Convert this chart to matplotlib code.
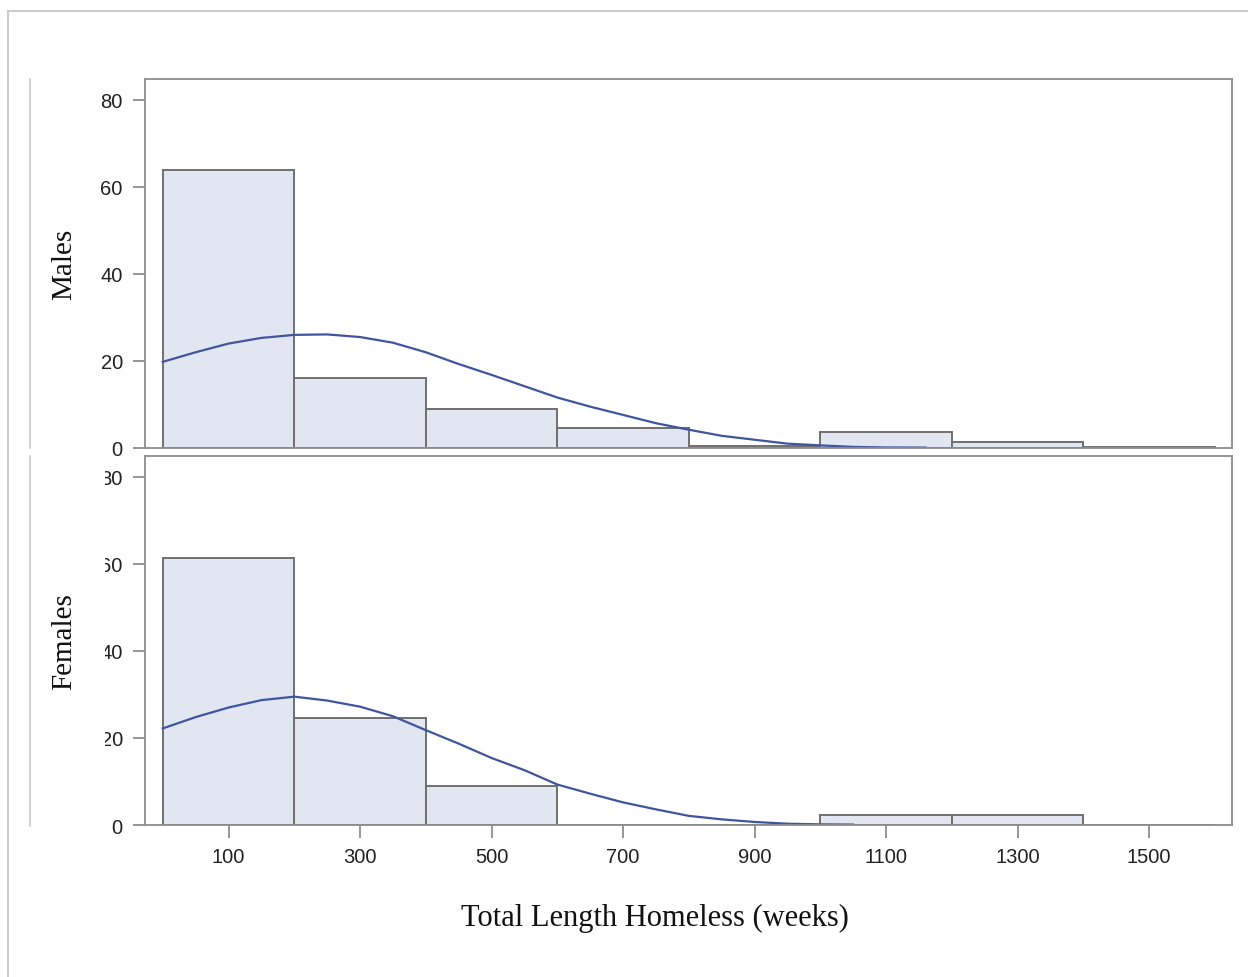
import matplotlib.pyplot as plt
from matplotlib.transforms import Bbox
from matplotlib.lines import Line2D

# histogram bins (weeks) and percent per bin
bin_left = [0, 200, 400, 600, 800, 1000, 1200, 1400]
males_pct = [64.0, 16.0, 9.0, 4.6, 0.5, 3.7, 1.4, 0.3]
females_pct = [61.4, 24.6, 9.0, 0, 0, 2.3, 2.3, 0]

# fitted normal curves
males_cx = [0, 50, 100, 150, 200, 250, 300, 350, 400, 450, 500, 550, 600,
            650, 700, 750, 800, 850, 900, 950, 1000, 1050, 1100, 1160]
males_cy = [19.8, 22.0, 24.0, 25.3, 26.0, 26.1, 25.5, 24.2, 22.0, 19.3, 16.8,
            14.2, 11.6, 9.5, 7.6, 5.7, 4.2, 2.8, 1.9, 1.0, 0.6, 0.25, 0.12, 0.1]
females_cx = [0, 50, 100, 150, 200, 250, 300, 350, 400, 450, 500, 550, 600,
              650, 700, 750, 800, 850, 900, 950, 1000, 1050]
females_cy = [22.2, 24.8, 27.0, 28.7, 29.5, 28.6, 27.2, 25.0, 21.8, 18.7, 15.4,
              12.6, 9.3, 7.2, 5.2, 3.6, 2.1, 1.3, 0.7, 0.3, 0.15, 0.1]

xticks = [100, 300, 500, 700, 900, 1100, 1300, 1500]
yticks = [0, 20, 40, 60, 80]

bar_fill = '#e1e6f0'
bar_edge = '#6f6f6f'
curve_col = '#3f55a0'
frame_col = '#8e8e8e'

plt.rcParams['font.family'] = ['Liberation Sans', 'DejaVu Sans']

fig = plt.figure(figsize=(12.48, 9.78), dpi=100)
ax1 = fig.add_axes([0.1162, 0.5409, 0.871, 0.3773])
ax2 = fig.add_axes([0.1162, 0.1554, 0.871, 0.3773])

panels = [(ax1, males_pct, males_cx, males_cy, 'Males'),
          (ax2, females_pct, females_cx, females_cy, 'Females')]
for ax, pct, cx, cy, name in panels:
    ax.bar(bin_left, pct, width=200, align='edge', color=bar_fill,
           edgecolor=bar_edge, linewidth=1.4)
    ax.plot(cx, cy, color=curve_col, linewidth=1.6, solid_joinstyle='round')
    ax.set_xlim(-27, 1626)
    ax.set_ylim(0, 84.8)
    ax.set_yticks(yticks)
    ax.set_xticks(xticks)
    for s in ax.spines.values():
        s.set_color(frame_col)
        s.set_linewidth(1.3)
    ax.tick_params(colors=frame_col, labelcolor='#222222', labelsize=14.5,
                   length=9, width=1.3, pad=7)
    ax.set_ylabel(name, family='Liberation Serif', fontsize=21,
                  color='#111111', labelpad=17)

ax1.tick_params(axis='x', bottom=False, labelbottom=False)

# left edge of lower panel tick labels is cut off in the original
fig.canvas.draw()
clip = Bbox.from_extents(105, 0, 1248, 978 - 452)
for lab in ax2.get_yticklabels():
    lab.set_clip_on(True)
    lab.set_clip_box(clip)

fig.text(0.525, 0.061, 'Total Length Homeless (weeks)', family='Liberation Serif',
         fontsize=22, color='#111111', ha='center', va='center')

# light frame lines around the figure
fig.add_artist(Line2D([8 / 1248, 8 / 1248], [0, 1 - 12 / 978], color='#cccccc', lw=1.5))
fig.add_artist(Line2D([8 / 1248, 1], [1 - 12 / 978, 1 - 12 / 978], color='#cccccc', lw=1.5))
fig.add_artist(Line2D([30 / 1248, 30 / 1248], [1 - 80 / 978, 1 - 449 / 978], color='#cccccc', lw=1.2))
fig.add_artist(Line2D([30 / 1248, 30 / 1248], [1 - 457 / 978, 1 - 827 / 978], color='#cccccc', lw=1.2))

fig.savefig('out.png', dpi=100)
